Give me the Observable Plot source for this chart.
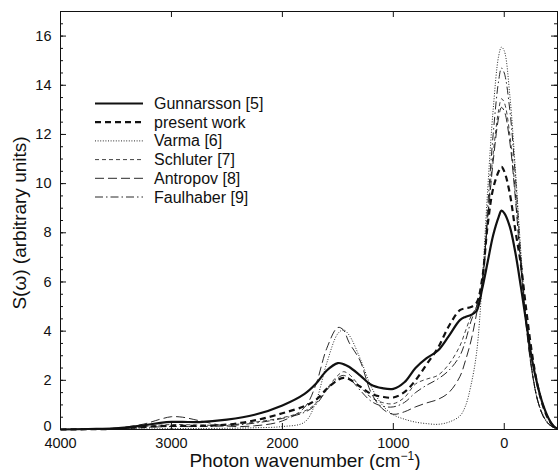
<!DOCTYPE html>
<html><head><meta charset="utf-8">
<script src="https://cdn.jsdelivr.net/npm/d3@7"></script>
<script src="https://cdn.jsdelivr.net/npm/@observablehq/plot@0.6"></script>
<style>
body{margin:0;background:#fff;}
#wrap{position:relative;width:558px;height:470px;font-family:"Liberation Sans",Arial,Helvetica,sans-serif;}
</style></head><body><div id="wrap"></div>
<script>
const wavenumbers = [4000,3750,3500,3250,3100,3000,2900,2750,2500,2250,2000,1800,1700,1600,1500,1450,1400,1300,1200,1100,1000,900,800,700,600,500,400,350,300,250,200,150,100,50,25,0,-50,-100,-150,-200,-250,-300,-350,-400,-450,-480];
const gunnarsson = [0,0.02,0.05,0.17,0.27,0.31,0.31,0.30,0.40,0.60,0.98,1.45,1.85,2.4,2.7,2.66,2.55,2.2,1.82,1.68,1.65,1.92,2.5,2.9,3.2,3.8,4.45,4.58,4.66,4.82,5.7,6.8,7.9,8.65,8.9,8.8,8.25,7.2,5.8,4.3,2.85,1.8,1.0,0.45,0.12,0.04];
const presentWork = [0,0.01,0.03,0.1,0.14,0.15,0.15,0.15,0.2,0.37,0.66,0.95,1.2,1.65,2.02,2.1,2.05,1.75,1.45,1.33,1.3,1.52,2.0,2.65,3.3,4.2,4.85,4.93,4.98,5.15,6.1,8.3,9.8,10.5,10.68,10.5,9.6,8.1,6.7,4.8,3.1,1.8,0.95,0.4,0.1,0.03];
const varma = [0,0.01,0.01,0.02,0.03,0.04,0.04,0.04,0.05,0.07,0.12,0.3,1.1,2.7,3.9,4.05,3.85,2.9,1.75,1.0,0.6,0.42,0.3,0.24,0.21,0.3,0.55,0.95,1.8,3.1,5.9,9.7,13.0,15.2,15.55,15.4,13.6,10.6,7.2,4.3,2.4,1.2,0.6,0.25,0.08,0.03];
const schluter = [0,0.01,0.03,0.12,0.18,0.2,0.2,0.18,0.18,0.3,0.48,0.75,1.05,1.65,2.2,2.35,2.25,1.75,1.3,1.1,1.05,1.3,1.85,2.05,2.2,2.65,3.4,4.0,4.6,5.0,5.8,8.6,11.2,13.0,13.45,13.3,12.0,9.6,6.7,4.2,2.4,1.2,0.55,0.22,0.07,0.02];
const antropov = [0,0.02,0.06,0.22,0.42,0.52,0.5,0.36,0.14,0.15,0.35,0.9,1.8,3.3,4.15,4.05,3.55,2.8,1.5,0.85,0.62,0.72,0.92,1.08,1.22,1.5,2.15,2.8,3.6,4.7,6.0,8.5,10.9,12.7,13.1,12.95,11.7,9.4,6.6,4.1,2.35,1.2,0.55,0.22,0.07,0.02];
const faulhaber = [0,0.01,0.02,0.08,0.11,0.12,0.12,0.12,0.15,0.26,0.45,0.7,1.0,1.6,2.1,2.2,2.1,1.6,1.15,0.95,0.92,1.1,1.5,1.8,2.05,2.4,3.0,3.6,4.4,5.0,5.9,9.0,12.0,14.2,14.7,14.5,13.0,10.3,7.0,4.3,2.4,1.2,0.55,0.22,0.07,0.02];

const seriesNames = ["Gunnarsson [5]","present work","Varma [6]","Schluter [7]","Antropov [8]","Faulhaber [9]"];
const seriesValues = [gunnarsson,presentWork,varma,schluter,antropov,faulhaber];
const xTickValues = [4000,3000,2000,1000,0];
const yTickValues = [0,2,4,6,8,10,12,14,16];
const yMinorTickValues = d3.range(0,17.01,0.5);
const xLabel = "Photon wavenumber (cm";
const yLabel = "S(\u03c9) (arbitrary units)";

const styles = [
  {width:2.2, dash:null},
  {width:2.2, dash:"6,4"},
  {width:0.9, dash:"1,1.6"},
  {width:0.8, dash:"4,3"},
  {width:0.9, dash:"9,4"},
  {width:0.9, dash:"8,3,1.5,3"}
];

const W = 558, H = 470;
const mL = 60, mR = 1, mT = 11, mB = 41;
const innerW = W - mL - mR, innerH = H - mT - mB;

const rows = [];
seriesNames.forEach((name, si) => {
  wavenumbers.forEach((w, i) => rows.push({series: name, si, w, v: seriesValues[si][i]}));
});

const lineMarks = seriesNames.map((name, si) =>
  Plot.line(rows.filter(r => r.si === si), {
    x: "w", y: "v", curve: "catmull-rom",
    stroke: "#111", strokeWidth: styles[si].width,
    strokeDasharray: styles[si].dash, strokeLinecap: "butt"
  })
);

const chart = Plot.plot({
  width: W, height: H,
  marginLeft: mL, marginRight: mR, marginTop: mT, marginBottom: mB,
  style: {fontFamily: "'Liberation Sans', Arial, Helvetica, sans-serif", fontSize: "15px", color: "#111", background: "#fff"},
  x: {domain: [4000, -480], label: null},
  y: {domain: [0, 17], label: null},
  marks: [
    ...lineMarks,
    Plot.axisX(xTickValues, {anchor: "bottom", tickSize: 0, tickPadding: 8, label: null, fontSize: 14.5, tickFormat: d => String(d)}),
    Plot.axisY(yTickValues.filter(d => d > 0), {anchor: "left", tickSize: 0, tickPadding: 9, label: null, fontSize: 14.5, tickFormat: d => String(d)}),
    Plot.axisY(yTickValues.filter(d => d === 0), {anchor: "left", tickSize: 0, tickPadding: 9, dy: -3, label: null, fontSize: 14.5, tickFormat: d => String(d)}),
    Plot.tickY(yMinorTickValues, {y: d => d, insetRight: innerW - 3, stroke: "#111", strokeWidth: 1}),
    Plot.tickY(yTickValues, {y: d => d, insetRight: innerW - 6, stroke: "#111", strokeWidth: 1}),
    Plot.tickY(yMinorTickValues, {y: d => d, insetLeft: innerW - 3, stroke: "#111", strokeWidth: 1}),
    Plot.tickY(yTickValues, {y: d => d, insetLeft: innerW - 6, stroke: "#111", strokeWidth: 1}),
    Plot.tickX(xTickValues, {x: d => d, insetTop: innerH - 6, stroke: "#111", strokeWidth: 1}),
    Plot.tickX(xTickValues, {x: d => d, insetBottom: innerH - 6, stroke: "#111", strokeWidth: 1}),
    Plot.frame({stroke: "#111", strokeWidth: 1})
  ]
});

const wrap = document.getElementById("wrap");
wrap.appendChild(chart);

const svg = d3.select(chart);
const ff = "'Liberation Sans', Arial, sans-serif";
// x axis label with superscript
const xl = svg.append("text")
  .attr("x", 305).attr("y", 467)
  .attr("text-anchor", "middle")
  .attr("font-size", 19).attr("fill", "#111")
  .attr("font-family", ff);
xl.append("tspan").text(xLabel);
xl.append("tspan").attr("font-size", 12).attr("dy", -7).text("\u22121");
xl.append("tspan").attr("dy", 7).text(")");

svg.append("text")
  .attr("transform", "translate(26,223) rotate(-90)")
  .attr("text-anchor", "middle")
  .attr("font-size", 19).attr("fill", "#111")
  .attr("font-family", ff)
  .text(yLabel);

// legend
const leg = svg.append("g").attr("text-anchor", "start");
seriesNames.forEach((name, si) => {
  const y = 103.5 + si * 18.7;
  leg.append("line").attr("x1", 95).attr("x2", 143).attr("y1", y).attr("y2", y)
    .attr("stroke", "#111").attr("stroke-width", styles[si].width)
    .attr("stroke-dasharray", styles[si].dash);
  leg.append("text").attr("x", 154).attr("y", y + 5.5)
    .attr("text-anchor", "start")
    .attr("font-size", 16).attr("fill", "#111")
    .attr("font-family", ff)
    .text(name);
});
</script></body></html>
